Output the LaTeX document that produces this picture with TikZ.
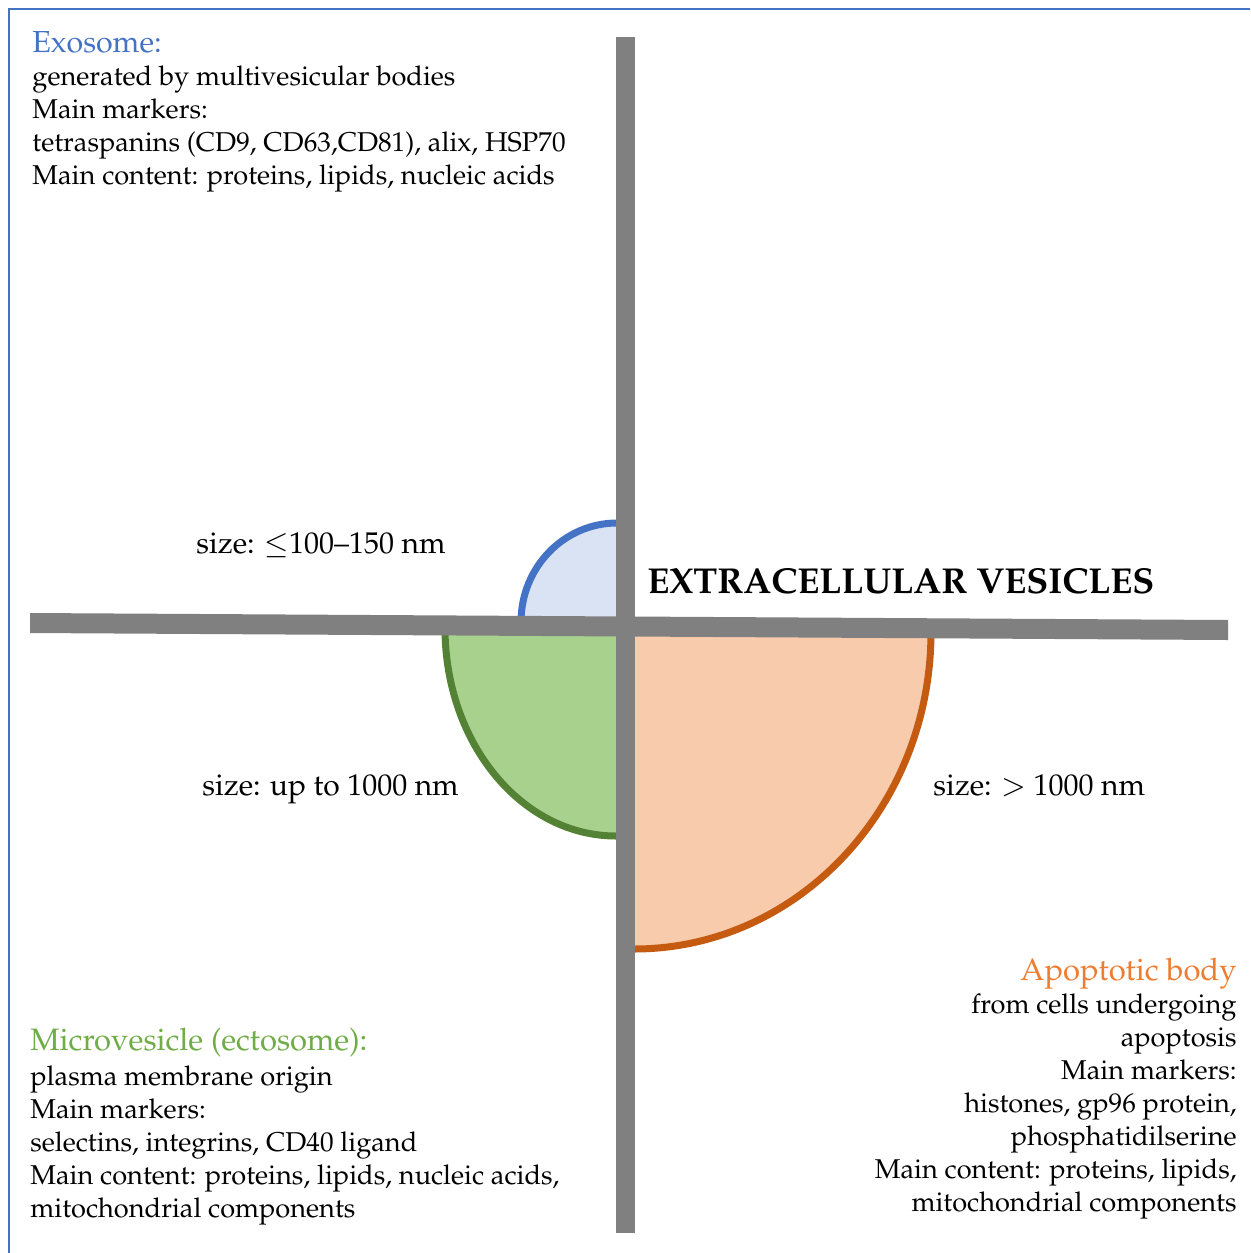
\documentclass[tikz,border=0pt]{standalone}
\usepackage[T1]{fontenc}
\usepackage{mathpazo}
\definecolor{frameblue}{RGB}{68,114,196}
\definecolor{exoblue}{RGB}{68,114,196}
\definecolor{exofill}{RGB}{218,227,243}
\definecolor{mvgreen}{RGB}{84,130,53}
\definecolor{mvfill}{RGB}{169,209,142}
\definecolor{apoorange}{RGB}{197,90,17}
\definecolor{apofill}{RGB}{248,203,173}
\definecolor{bargray}{RGB}{128,128,128}
\definecolor{titleblue}{RGB}{68,114,196}
\definecolor{titlegreen}{RGB}{112,173,71}
\definecolor{titleorange}{RGB}{237,125,49}
\begin{document}
\begin{tikzpicture}[x=0.5pt,y=-0.5pt,
  bodytext/.style={inner sep=0pt, font=\fontsize{13.6}{16.5}\selectfont},
  sizelabel/.style={inner sep=0pt, anchor=base west, font=\fontsize{15}{18}\selectfont},
  quarter/.style={line width=3.5pt},
  bar/.style={fill=bargray}]
\useasboundingbox (0,0) rectangle (1250,1253);
\fill[white] (0,0) rectangle (1250,1253);
\draw[frameblue, line width=1pt] (9,1253) -- (9,9) -- (1250,9);

% exosome quarter (upper left)
\begin{scope}
\clip (500,500) rectangle (617,622);
\filldraw[quarter, fill=exofill, draw=exoblue] (617,622) ellipse [x radius=96, y radius=99];
\end{scope}
% microvesicle quarter (lower left)
\begin{scope}
\clip (430,628) rectangle (616,860);
\filldraw[quarter, fill=mvfill, draw=mvgreen] (616,628) ellipse [x radius=171, y radius=208];
\end{scope}
% apoptotic body quarter (lower right)
\begin{scope}
\clip (634,632) rectangle (950,970);
\filldraw[quarter, fill=apofill, draw=apoorange] (634,632) ellipse [x radius=297, y radius=317];
\end{scope}

% axes
\fill[bar] (30,613) -- (1228,620) -- (1228,640) -- (30,633) -- cycle;
\fill[bar] (616,37) rectangle (635,1233);

% texts
\node[bodytext, anchor=north west, align=left] (exo) at (32,29)
 {{\color{titleblue}\fontsize{15.2}{16.5}\selectfont\strut Exosome:}\\
  generated by multivesicular bodies\\
  Main markers:\\
  tetraspanins (CD9, CD63,CD81), alix, HSP70\\
  Main content: proteins, lipids, nucleic acids};

\node[bodytext, anchor=north west, align=left] (mv) at (30,1027)
 {{\color{titlegreen}\fontsize{15.5}{16.5}\selectfont\strut Microvesicle (ectosome):}\\[1pt]
  plasma membrane origin\\
  Main markers:\\
  selectins, integrins, CD40 ligand\\
  Main content: proteins, lipids, nucleic acids,\\
  mitochondrial components};

\node[bodytext, anchor=north east, align=right] (apo) at (1237,957)
 {{\color{titleorange}\fontsize{15.5}{16.5}\selectfont\strut Apoptotic body}\\
  from cells undergoing\\
  apoptosis\\
  Main markers:\\
  histones, gp96 protein,\\
  phosphatidilserine\\
  Main content: proteins, lipids,\\
  mitochondrial components};

\node[sizelabel] (exosize) at (196,553) {size: $\leq$100--150 nm};
\node[sizelabel] (mvsize) at (202,795) {size: up to 1000 nm};
\node[sizelabel] (aposize) at (933,795) {size: $>$ 1000 nm};

\node[inner sep=0pt, anchor=base west, font=\fontsize{18}{22}\selectfont\bfseries] (title) at (647,593) {EXTRACELLULAR VESICLES};
\end{tikzpicture}
\end{document}
